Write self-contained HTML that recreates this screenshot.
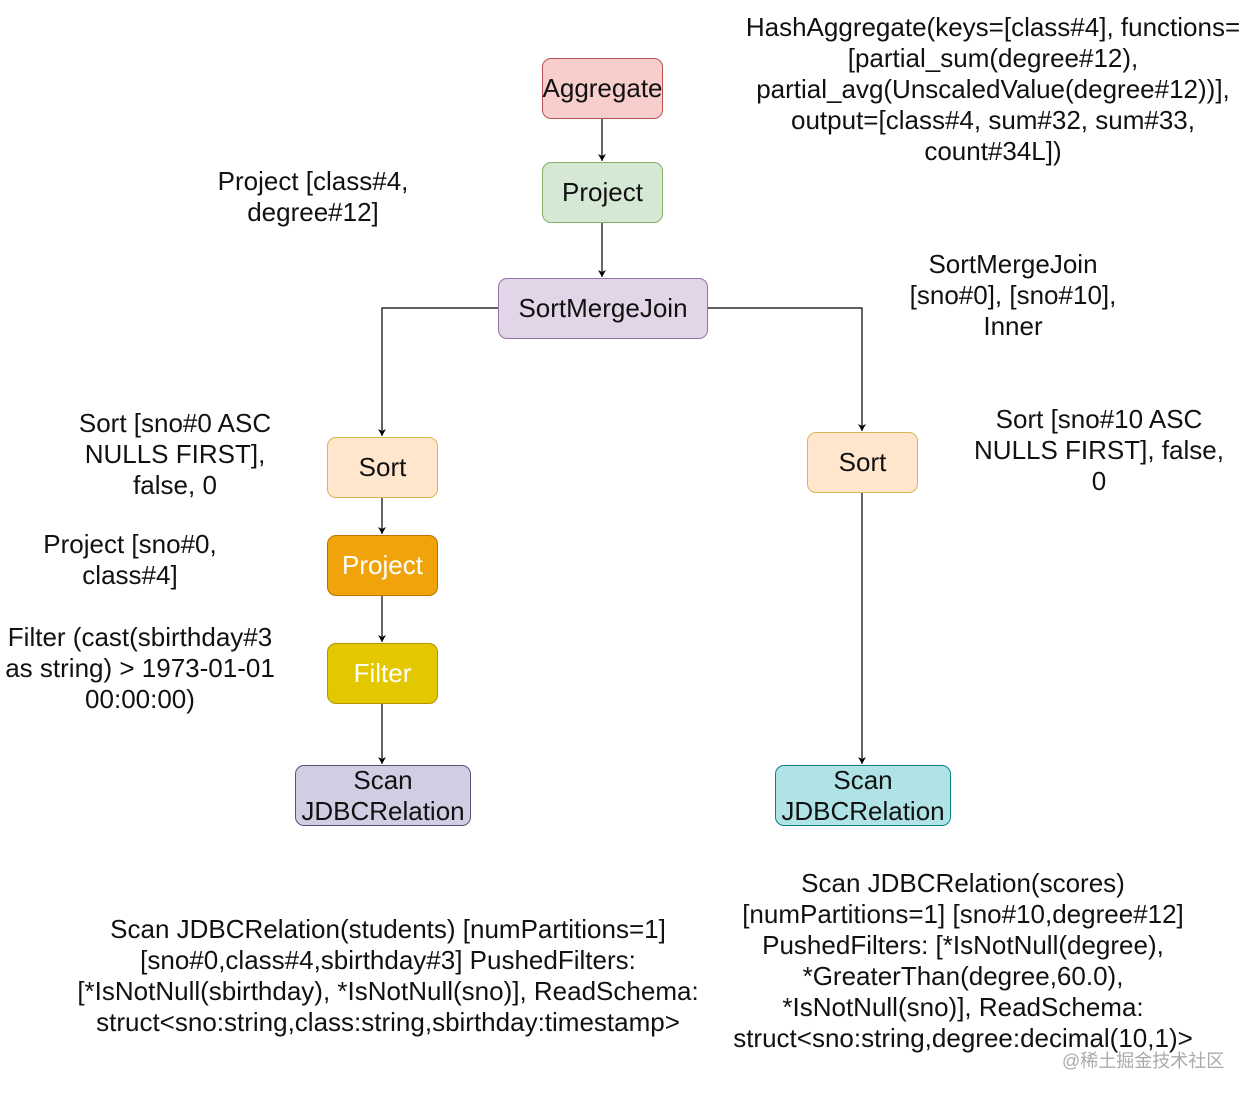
<!DOCTYPE html>
<html><head><meta charset="utf-8"><style>
body{margin:0;width:1251px;height:1098px;background:#fff;position:relative;overflow:hidden;font-family:"Liberation Sans",Arial,sans-serif;}
.b{position:absolute;box-sizing:border-box;border-radius:9px;border:1px solid;display:flex;align-items:center;justify-content:center;text-align:center;font-size:26px;line-height:31px;color:#111;white-space:nowrap;}
.t{position:absolute;text-align:center;font-size:26px;line-height:31px;color:#111;white-space:nowrap;transform:translateX(-50%);}
svg{position:absolute;left:0;top:0;}
</style></head><body>
<svg width="1251" height="1098"><defs><marker id="a" markerWidth="8" markerHeight="8" refX="7" refY="4" orient="auto" markerUnits="userSpaceOnUse"><path d="M0,0 L7,4 L0,8 L2,4 Z" fill="#000"/></marker></defs>
<g stroke="#000" stroke-width="1.2" fill="none">
<path d="M602 118 V161" marker-end="url(#a)"/>
<path d="M602 222 V277" marker-end="url(#a)"/>
<path d="M498 308 H382 V436" marker-end="url(#a)"/>
<path d="M707 308 H862 V431" marker-end="url(#a)"/>
<path d="M382 497 V534" marker-end="url(#a)"/>
<path d="M382 595 V642" marker-end="url(#a)"/>
<path d="M382 703 V764" marker-end="url(#a)"/>
<path d="M862 492 V764" marker-end="url(#a)"/>
</g></svg>
<div class="b" style="left:542px;top:58px;width:121px;height:61px;background:#f8cecc;border-color:#b85450">Aggregate</div>
<div class="b" style="left:542px;top:162px;width:121px;height:61px;background:#d5e8d4;border-color:#82b366">Project</div>
<div class="b" style="left:498px;top:278px;width:210px;height:61px;background:#e1d5e7;border-color:#9673a6">SortMergeJoin</div>
<div class="b" style="left:327px;top:437px;width:111px;height:61px;background:#ffe6cc;border-color:#d6b656">Sort</div>
<div class="b" style="left:327px;top:535px;width:111px;height:61px;background:#f0a30a;border-color:#bd7000;color:#fff">Project</div>
<div class="b" style="left:327px;top:643px;width:111px;height:61px;background:#e3c800;border-color:#b09500;color:#fff">Filter</div>
<div class="b" style="left:295px;top:765px;width:176px;height:61px;background:#d0cee2;border-color:#56517e">Scan<br>JDBCRelation</div>
<div class="b" style="left:807px;top:432px;width:111px;height:61px;background:#ffe6cc;border-color:#d6b656">Sort</div>
<div class="b" style="left:775px;top:765px;width:176px;height:61px;background:#b0e3e6;border-color:#0e8088">Scan<br>JDBCRelation</div>

<div class="t" style="left:993px;top:12px">HashAggregate(keys=[class#4], functions=<br>[partial_sum(degree#12),<br>partial_avg(UnscaledValue(degree#12))],<br>output=[class#4, sum#32, sum#33,<br>count#34L])</div>
<div class="t" style="left:313px;top:166px">Project [class#4,<br>degree#12]</div>
<div class="t" style="left:1013px;top:249px">SortMergeJoin<br>[sno#0], [sno#10],<br>Inner</div>
<div class="t" style="left:175px;top:408px">Sort [sno#0 ASC<br>NULLS FIRST],<br>false, 0</div>
<div class="t" style="left:1099px;top:404px">Sort [sno#10 ASC<br>NULLS FIRST], false,<br>0</div>
<div class="t" style="left:130px;top:529px">Project [sno#0,<br>class#4]</div>
<div class="t" style="left:140px;top:622px">Filter (cast(sbirthday#3<br>as string) &gt; 1973-01-01<br>00:00:00)</div>
<div class="t" style="left:388px;top:914px">Scan JDBCRelation(students) [numPartitions=1]<br>[sno#0,class#4,sbirthday#3] PushedFilters:<br>[*IsNotNull(sbirthday), *IsNotNull(sno)], ReadSchema:<br>struct&lt;sno:string,class:string,sbirthday:timestamp&gt;</div>
<div class="t" style="left:963px;top:868px">Scan JDBCRelation(scores)<br>[numPartitions=1] [sno#10,degree#12]<br>PushedFilters: [*IsNotNull(degree),<br>*GreaterThan(degree,60.0),<br>*IsNotNull(sno)], ReadSchema:<br>struct&lt;sno:string,degree:decimal(10,1)&gt;</div>
<div style="position:absolute;left:1062px;top:1047px;font-size:18px;color:#aaa;font-family:'Liberation Sans','Noto Sans CJK SC',sans-serif;">@稀土掘金技术社区</div>
</body></html>
